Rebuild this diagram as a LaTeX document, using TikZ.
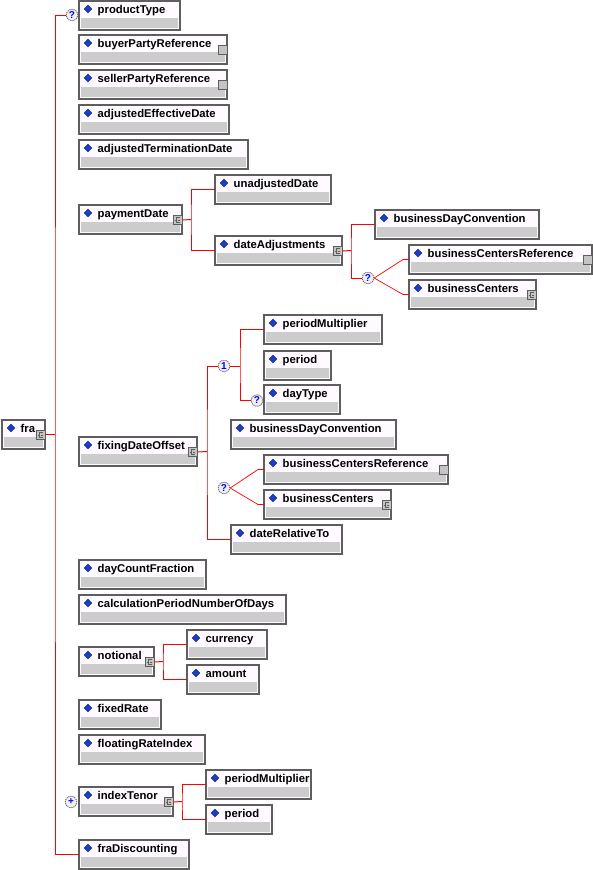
\documentclass[tikz,border=0pt]{standalone}
\usepackage{fontspec}
\setmainfont{Liberation Sans}
\usetikzlibrary{shapes.geometric}
\definecolor{bordergray}{HTML}{5E5E5E}
\definecolor{boxwhite}{HTML}{FEFAFF}
\definecolor{boxgray}{HTML}{CCCCCC}
\definecolor{diamblue}{HTML}{1B3FC4}
\definecolor{diamdark}{HTML}{0A1E8C}
\definecolor{iconfill}{HTML}{C4C4C4}
\definecolor{conred}{HTML}{FF0000}
\definecolor{circfill}{HTML}{F0F0F0}
\definecolor{circline}{HTML}{6A6A6A}
\tikzset{
  elbox/.style={draw=bordergray, line width=1.2pt, fill=boxwhite, rectangle, anchor=north west,
    minimum height=29pt, inner sep=0pt, outer sep=0pt},
  lbl/.style={font=\bfseries\fontsize{11.3}{12}\selectfont, inner sep=0pt, anchor=base west},
  diam/.style={diamond, fill=diamblue, draw=diamdark, line width=0.3pt, inner sep=0pt, minimum size=8pt},
  iconbox/.style={rectangle, fill=iconfill, draw=bordergray, line width=0.9pt, minimum size=9pt, inner sep=0pt},
  compcirc/.style={circle, fill=circfill, draw=circline, line width=0.9pt, dash pattern=on 1.2pt off 0.9pt,
    minimum size=11.5pt, inner sep=0pt, text=blue, font=\bfseries\fontsize{10}{10}\selectfont},
  conn/.style={draw=conred, line width=1pt},
  thinconn/.style={draw=conred, line width=0.7pt},
}
\newcommand\elem[5]{%
  \node[elbox, minimum width=#4pt] (#1) at (#2,#3) {};
  \fill[boxgray] ([shift={(1.6pt,-17pt)}]#1.north west) rectangle ([shift={(-1.6pt,1.6pt)}]#1.south east);
  \node[diam] (#1-d) at ([shift={(9pt,-8pt)}]#1.north west) {};
  \node[lbl] (#1-t) at ([shift={(18.5pt,-12.5pt)}]#1.north west) {#5};
}
\newcommand\cicon[1]{%
  \node[iconbox] (#1-c) at ([shift={(-4.5pt,-15pt)}]#1.north east) {};
  \draw[bordergray, line width=0.7pt] ([shift={(2pt,2.5pt)}]#1-c.center) -- ++(-3pt,0) -- ++(0,-5pt) -- ++(3pt,0);
  \draw[bordergray, line width=0.7pt] ([shift={(-1pt,0pt)}]#1-c.center) -- ++(-2pt,0);
  \draw[bordergray, line width=0.7pt] ([shift={(0.5pt,0pt)}]#1-c.center) -- ++(1.5pt,0);
}
\newcommand\ricon[1]{%
  \node[iconbox] (#1-r) at ([shift={(-4.5pt,-15pt)}]#1.north east) {};
}
\begin{document}
\begin{tikzpicture}[x=1pt,y=-1pt]
\useasboundingbox (0,0) rectangle (593,870);

% elements
\elem{productType}{79}{1}{101}{productType}
\elem{buyerPartyReference}{79}{35}{148}{buyerPartyReference}\ricon{buyerPartyReference}
\elem{sellerPartyReference}{79}{70}{148}{sellerPartyReference}\ricon{sellerPartyReference}
\elem{adjustedEffectiveDate}{79}{105}{150}{adjustedEffectiveDate}
\elem{adjustedTerminationDate}{79}{140}{169}{adjustedTerminationDate}
\elem{paymentDate}{79}{205}{103}{paymentDate}\cicon{paymentDate}
\elem{unadjustedDate}{215}{175}{116}{unadjustedDate}
\elem{dateAdjustments}{215}{236}{127}{dateAdjustments}\cicon{dateAdjustments}
\elem{bdcA}{375}{210}{164}{businessDayConvention}
\elem{bcrA}{409}{245}{183}{businessCentersReference}\ricon{bcrA}
\elem{bcA}{409}{280}{127}{businessCenters}\cicon{bcA}
\elem{fra}{2}{420}{43}{fra}\cicon{fra}
\elem{fixingDateOffset}{79}{437}{118}{fixingDateOffset}\cicon{fixingDateOffset}
\elem{pmA}{264}{315}{118}{periodMultiplier}
\elem{periodA}{264}{351}{67}{period}
\elem{dayType}{264}{385}{76}{dayType}
\elem{bdcB}{231}{420}{165}{businessDayConvention}
\elem{bcrB}{264}{455}{184}{businessCentersReference}\ricon{bcrB}
\elem{bcB}{264}{490}{127}{businessCenters}\cicon{bcB}
\elem{dateRelativeTo}{231}{525}{111}{dateRelativeTo}
\elem{dayCountFraction}{79}{560}{127}{dayCountFraction}
\elem{calcDays}{79}{595}{207}{calculationPeriodNumberOfDays}
\elem{notional}{79}{647}{75}{notional}\cicon{notional}
\elem{currency}{187}{630}{80}{currency}
\elem{amount}{187}{665}{72}{amount}
\elem{fixedRate}{79}{700}{82}{fixedRate}
\elem{floatingRateIndex}{79}{735}{126}{floatingRateIndex}
\elem{indexTenor}{79}{787}{94}{indexTenor}\cicon{indexTenor}
\elem{pmB}{206}{770}{105}{periodMultiplier}
\elem{periodB}{206}{805}{66}{period}
\elem{fraDiscounting}{79}{840}{110}{fraDiscounting}

% compositor circles
\node[compcirc] (q1) at (72,15) {?};
\node[compcirc] (q2) at (368,278) {?};
\node[compcirc] (c1) at (224,366) {1};
\node[compcirc] (q4) at (257,400.5) {?};
\node[compcirc] (q5) at (224,488) {?};
\node[compcirc] (p6) at (71,802) {+};

% junctions
\coordinate (fraJ) at (55,434.5);
\coordinate (pdJ) at (191,219.5);
\coordinate (daJ) at (351,250.5);
\coordinate (fdJ) at (207,451.5);
\coordinate (chJ) at (240,366);
\coordinate (noJ) at (163,661.5);
\coordinate (itJ) at (182,801.5);
\coordinate (q2a) at (403,259.5);
\coordinate (q2b) at (403,294.5);
\coordinate (q5a) at (258,469.5);
\coordinate (q5b) at (258,504.5);

% connectors
\draw[conn] (fra.east) -- (fraJ);
\draw[conn] (q1.west) -| (fraJ) |- (fraDiscounting.west);
\draw[conn] (paymentDate-c.east) -- (pdJ);
\draw[conn] (unadjustedDate.west) -| (pdJ) |- (dateAdjustments.west);
\draw[conn] (dateAdjustments-c.east) -- (daJ);
\draw[conn] (bdcA.west) -| (daJ) |- (q2.west);
\draw[thinconn] (q2.east) -- (q2a) -- (bcrA.west);
\draw[thinconn] (q2.east) -- (q2b) -- (bcA.west);
\draw[conn] (fixingDateOffset-c.east) -- (fdJ);
\draw[conn] (c1.west) -| (fdJ) |- (dateRelativeTo.west);
\draw[conn] (c1.east) -- (chJ);
\draw[conn] (pmA.west) -| (chJ) |- (q4.west);
\draw[thinconn] (q5.east) -- (q5a) -- (bcrB.west);
\draw[thinconn] (q5.east) -- (q5b) -- (bcB.west);
\draw[conn] (notional-c.east) -- (noJ);
\draw[conn] (currency.west) -| (noJ) |- (amount.west);
\draw[conn] (indexTenor-c.east) -- (itJ);
\draw[conn] (pmB.west) -| (itJ) |- (periodB.west);
\end{tikzpicture}
\end{document}
